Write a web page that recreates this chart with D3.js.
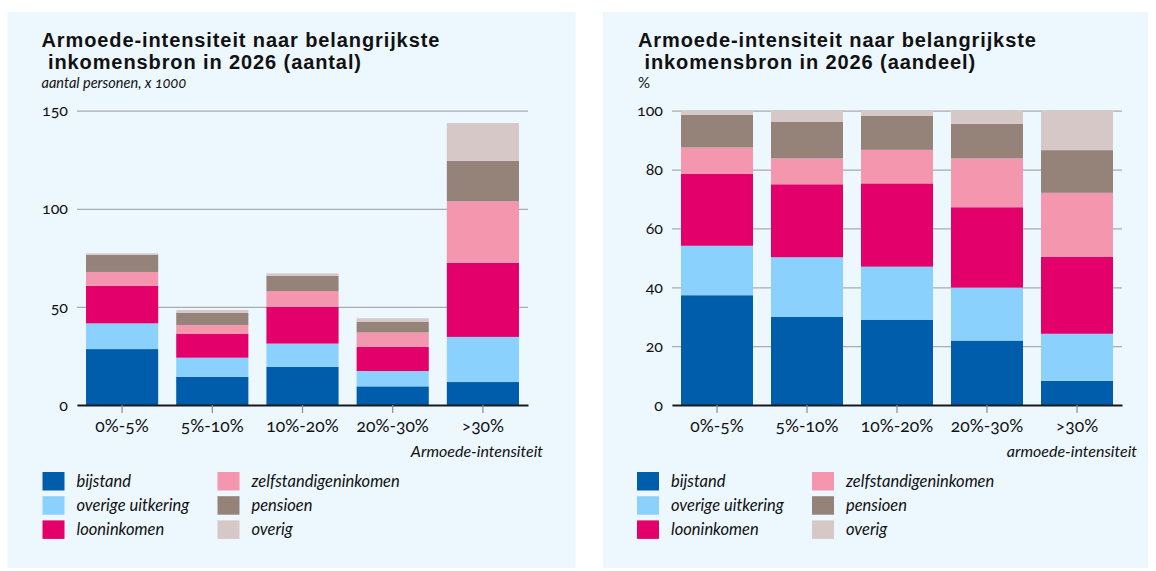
<!DOCTYPE html>
<html>
<head>
<meta charset="utf-8">
<script src="https://cdn.jsdelivr.net/npm/d3@7"></script>
<style>
  html, body { margin: 0; padding: 0; background: #ffffff; }
  svg { display: block; font-family: Lato, "Open Sans", sans-serif; font-variant-numeric: oldstyle-nums; }
</style>
</head>
<body>
<svg id="chart" width="1156" height="571"></svg>
<script>
// ---- Data ----
const categories = ["0%-5%", "5%-10%", "10%-20%", "20%-30%", ">30%"];
const seriesNames = ["bijstand", "overige uitkering", "looninkomen", "zelfstandigeninkomen", "pensioen", "overig"];
const seriesColors = ["#005dac", "#8bd1fd", "#e4006a", "#f396ae", "#958279", "#d6c8c7"];

// Aantal personen (x 1000)
const aantalBijstand  = [28.5, 14.4, 19.4,  9.5, 11.7];
const aantalOverigeU  = [13.1,  9.7, 11.9,  7.8, 23.0];
const aantalLoon      = [19.2, 12.3, 18.8, 12.3, 37.7];
const aantalZelf      = [ 7.0,  4.4,  8.0,  7.4, 31.4];
const aantalPensioen  = [ 8.8,  6.1,  7.8,  5.3, 20.7];
const aantalOverig    = [ 0.7,  1.5,  1.2,  1.9, 19.2];
const aantalTicks     = [0, 50, 100, 150];

// Aandeel (%)
const aandeelBijstand = [37.3, 29.9, 29.0, 21.9,  8.2];
const aandeelOverigeU = [16.8, 20.3, 18.0, 18.0, 16.0];
const aandeelLoon     = [24.5, 24.8, 28.3, 27.3, 26.1];
const aandeelZelf     = [ 8.9,  8.8, 11.4, 16.6, 21.8];
const aandeelPensioen = [11.1, 12.5, 11.5, 11.7, 14.5];
const aandeelOverig   = [ 1.4,  3.7,  1.8,  4.5, 13.4];
const aandeelTicks    = [0, 20, 40, 60, 80, 100];

function buildRows(arrays) {
  return categories.map((c, i) => {
    const row = { cat: c };
    seriesNames.forEach((s, k) => { row[s] = arrays[k][i]; });
    return row;
  });
}

const svg = d3.select("#chart");
const FONT = "Lato, 'Open Sans', sans-serif";

function drawPanel(cfg) {
  const g = svg.append("g");
  // panel background
  g.append("rect")
    .attr("x", cfg.px).attr("y", 12)
    .attr("width", cfg.pw).attr("height", 556)
    .attr("fill", "#edf7fe");

  // title (two lines)
  const t = g.append("text").attr("x", cfg.tx).attr("y", 46.5)
    .attr("font-family", "'Liberation Sans', Arial, sans-serif")
    .attr("font-size", 20).attr("font-weight", 700).attr("fill", "#111")
    .attr("letter-spacing", 0.9)
    .style("white-space", "pre");
  t.append("tspan").attr("x", cfg.tx).attr("y", 46.5).text(cfg.title1);
  t.append("tspan").attr("x", cfg.tx).attr("y", 69).text(cfg.title2);

  g.append("text").attr("x", cfg.tx).attr("y", 88)
    .attr("font-size", cfg.subItalic ? 14.5 : 15)
    .attr("font-style", cfg.subItalic ? "italic" : "normal").attr("fill", "#111")
    .text(cfg.subtitle);

  const x = d3.scaleBand().domain(categories).range([cfg.x0, cfg.x1])
    .paddingInner(0.2).paddingOuter(0.1);
  const y = d3.scaleLinear().domain([0, cfg.ymax]).range([405, 110.7]);

  // y axis with gridlines
  const yAxis = d3.axisLeft(y).tickValues(cfg.ticks)
    .tickSize(-(cfg.x1 - cfg.x0)).tickPadding(9).tickFormat(d3.format("d"));
  const ya = g.append("g").attr("transform", `translate(${cfg.x0},0)`).call(yAxis);
  ya.select(".domain").remove();
  ya.selectAll(".tick line").attr("stroke", "#a9abad").attr("stroke-width", 1.2);
  ya.selectAll(".tick text").attr("font-size", 16).attr("fill", "#111")
    .attr("font-family", FONT);

  // stacked bars
  const rows = buildRows(cfg.data);
  const stack = d3.stack().keys(seriesNames)(rows);
  const layers = g.append("g").selectAll("g").data(stack).join("g")
    .attr("fill", (d, i) => seriesColors[i]);
  layers.selectAll("rect").data(d => d).join("rect")
    .attr("x", d => x(d.data.cat))
    .attr("width", x.bandwidth())
    .attr("y", d => y(d[1]))
    .attr("height", d => y(d[0]) - y(d[1]));

  // x axis
  const xAxis = d3.axisBottom(x).tickSize(8).tickSizeOuter(0).tickPadding(7);
  const xa = g.append("g").attr("transform", "translate(0,405)").call(xAxis);
  xa.select(".domain").attr("stroke", "#1a1a1a").attr("stroke-width", 2);
  xa.selectAll(".tick line").attr("stroke", "#8a8c8e").attr("stroke-width", 1.2);
  xa.selectAll(".tick text").attr("font-size", 17.5).attr("fill", "#111")
    .attr("font-family", FONT);

  // axis title
  g.append("text").attr("x", cfg.x1 + 15).attr("y", 457)
    .attr("text-anchor", "end").attr("font-size", 16).attr("font-style", "italic").attr("fill", "#111")
    .text(cfg.xTitle);

  // legend
  const leg = g.append("g");
  seriesNames.forEach((s, i) => {
    const col = Math.floor(i / 3), row = i % 3;
    const lx = cfg.lx + col * 175;
    const ly = 472 + row * 24.2;
    leg.append("rect").attr("x", lx).attr("y", ly).attr("width", 22).attr("height", 18.5)
      .attr("fill", seriesColors[i]);
    leg.append("text").attr("x", lx + 34).attr("y", ly + 14.5)
      .attr("font-size", 16.5).attr("font-style", "italic").attr("fill", "#111")
      .text(s);
  });
}

drawPanel({
  px: 7.5, pw: 568, tx: 41.5,
  title1: "Armoede-intensiteit naar belangrijkste",
  title2: " inkomensbron in 2026 (aantal)",
  subtitle: "aantal personen, x 1000", subItalic: true,
  x0: 77, x1: 528, ymax: 150, ticks: aantalTicks,
  data: [aantalBijstand, aantalOverigeU, aantalLoon, aantalZelf, aantalPensioen, aantalOverig],
  xTitle: "Armoede-intensiteit", lx: 42.5
});

drawPanel({
  px: 603, pw: 545, tx: 638,
  title1: "Armoede-intensiteit naar belangrijkste",
  title2: " inkomensbron in 2026 (aandeel)",
  subtitle: "%", subItalic: false,
  x0: 672, x1: 1122, ymax: 100, ticks: aandeelTicks,
  data: [aandeelBijstand, aandeelOverigeU, aandeelLoon, aandeelZelf, aandeelPensioen, aandeelOverig],
  xTitle: "armoede-intensiteit", lx: 637
});
</script>
</body>
</html>
